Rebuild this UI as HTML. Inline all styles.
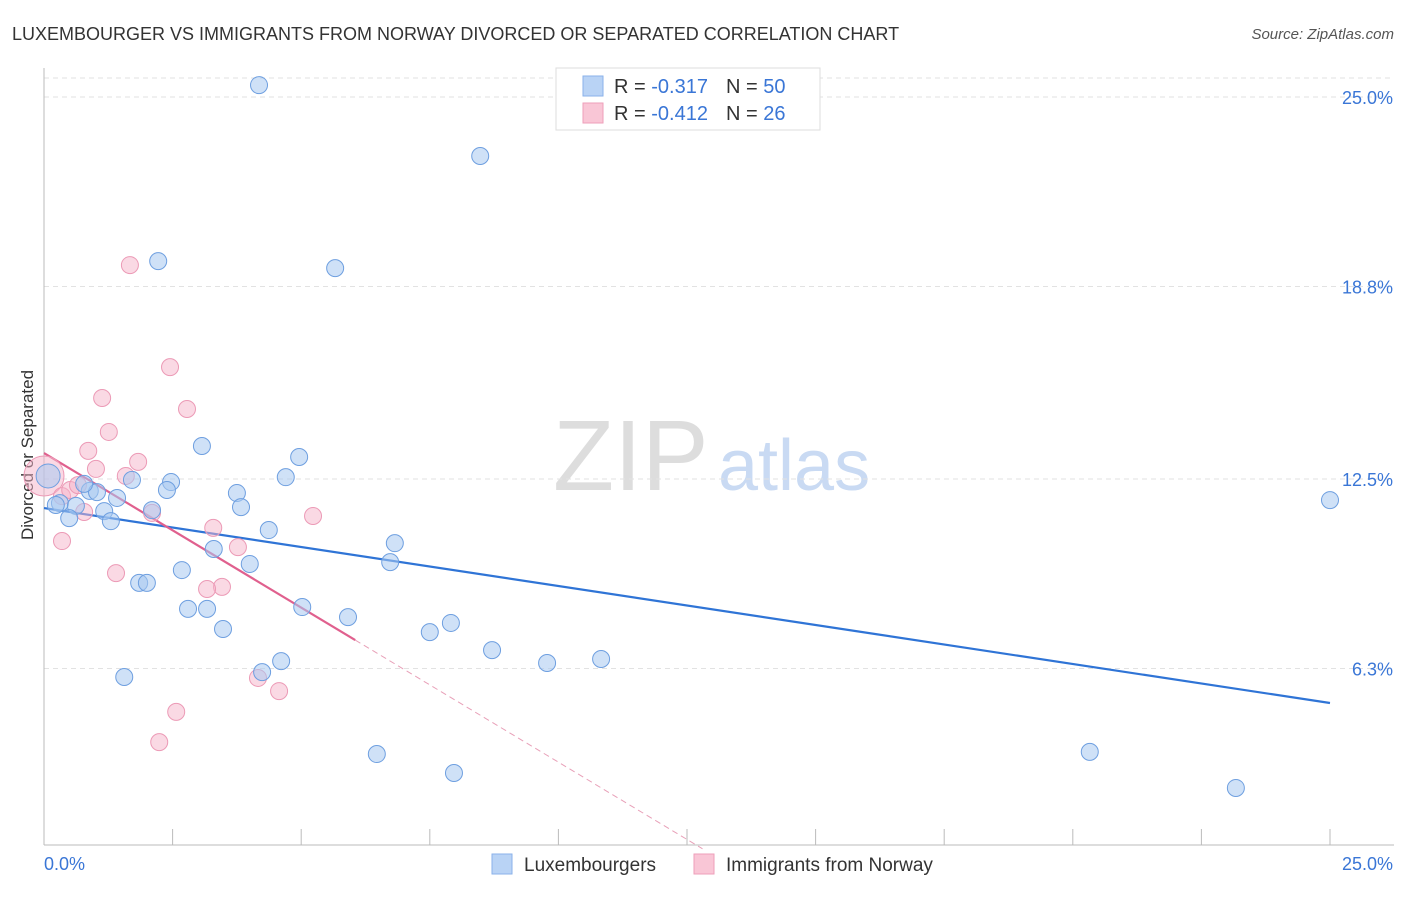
<!DOCTYPE html>
<html><head><meta charset="utf-8"><style>
body{margin:0;background:#fff;font-family:"Liberation Sans",sans-serif;}
svg text{font-family:"Liberation Sans",sans-serif;}
</style></head><body>
<svg id="c" width="1406" height="892" xmlns="http://www.w3.org/2000/svg">
<text x="12" y="40" font-size="18" fill="#333">LUXEMBOURGER VS IMMIGRANTS FROM NORWAY DIVORCED OR SEPARATED CORRELATION CHART</text>
<text x="1394" y="39" font-size="15" fill="#555" font-style="italic" text-anchor="end">Source: ZipAtlas.com</text>
<text transform="translate(33,455) rotate(-90)" font-size="17" fill="#333" text-anchor="middle">Divorced or Separated</text>
<g>
<text x="553" y="490" font-size="100" font-family="Liberation Serif,serif" fill="#ddd">ZIP</text>
<text x="718" y="490" font-size="72" fill="#c9daf3">atlas</text>
</g>
<g id="grid"></g><g id="axes"></g><g id="trend"></g><g id="pts"></g>
<g>
<rect x="556" y="68" width="264" height="62" fill="#fff" stroke="#ddd"/>
<rect x="583" y="76" width="20" height="20" fill="#b9d3f5" stroke="#8ab2ea"/>
<text x="614" y="93" font-size="20" fill="#333">R = <tspan fill="#3a76d6">-0.317</tspan><tspan dx="18">N = </tspan><tspan fill="#3a76d6">50</tspan></text>
<rect x="583" y="103" width="20" height="20" fill="#f9c6d6" stroke="#ee9fba"/>
<text x="614" y="120" font-size="20" fill="#333">R = <tspan fill="#3a76d6">-0.412</tspan><tspan dx="18">N = </tspan><tspan fill="#3a76d6"> 26</tspan></text>
</g>
<g>
<rect x="492" y="854" width="20" height="20" fill="#b9d3f5" stroke="#8ab2ea"/>
<text x="524" y="871" font-size="19" fill="#333">Luxembourgers</text>
<rect x="694" y="854" width="20" height="20" fill="#f9c6d6" stroke="#ee9fba"/>
<text x="726" y="871" font-size="19" fill="#333">Immigrants from Norway</text>
</g>
</svg>
<script>
const blueX=[4.18,8.48,2.22,5.66,3.07,4.96,4.70,2.47,2.39,1.71,0.89,1.03,1.42,0.31,0.23,0.62,1.17,2.10,0.49,1.30,3.75,3.83,4.37,6.82,3.30,4.00,6.73,2.68,1.85,2.00,2.80,3.17,5.02,5.91,3.48,7.50,7.91,8.71,9.78,10.83,4.61,4.24,1.56,6.47,7.97,20.33,23.17,25.0,0.78,0.08];
const blueY=[25.39,23.07,19.63,19.40,13.58,13.22,12.56,12.40,12.14,12.47,12.11,12.07,11.88,11.71,11.65,11.62,11.45,11.48,11.22,11.12,12.04,11.58,10.83,10.40,10.21,9.72,9.78,9.52,9.10,9.10,8.25,8.25,8.31,7.98,7.59,7.49,7.79,6.90,6.48,6.61,6.54,6.18,6.02,3.50,2.88,3.57,2.39,11.81,12.34,12.60];
const pinkX=[0,1.67,2.45,2.78,1.13,1.26,0.86,1.83,1.01,1.59,0.35,0.51,0.66,0.78,2.10,5.23,3.29,0.35,3.77,1.40,3.46,3.17,4.16,4.57,2.57,2.24];
const pinkY=[12.60,19.50,16.16,14.79,15.15,14.04,13.42,13.06,12.83,12.60,11.94,12.14,12.30,11.42,11.39,11.29,10.90,10.47,10.27,9.42,8.97,8.90,5.99,5.56,4.88,3.89];
const yTicks=[25.0,18.8,12.5,6.3];
const xTickLabels=["0.0%","25.0%"];
const blueTrend=[11.55,5.17];
const pinkTrend=[13.35,7.23,6.05];
const NS="http://www.w3.org/2000/svg";
const sx=v=>44+v/25*1286, sy=v=>861-v/25*764;
function mk(t,a,p){const e=document.createElementNS(NS,t);for(const k in a)e.setAttribute(k,a[k]);document.getElementById(p).appendChild(e);return e;}
let g=mk('line',{x1:44,x2:1394,y1:78,y2:78,stroke:'#e2e2e2','stroke-dasharray':'5,4'},'grid');


yTicks.forEach(v=>{
 const l=mk('line',{x1:44,x2:1394,y1:sy(v),y2:sy(v),stroke:'#e2e2e2','stroke-dasharray':'5,4'},'grid');
 
 
 const t=mk('text',{x:1393,y:sy(v)+7,'font-size':18,fill:'#3a76d6','text-anchor':'end'},'grid');t.textContent=v.toFixed(1)+'%';
 
 
});
let a=mk('line',{x1:44,x2:44,y1:68,y2:845,stroke:'#bbb'},'axes');


a=mk('line',{x1:44,x2:1394,y1:845,y2:845,stroke:'#bbb'},'axes');


for(let i=0;i<=10;i++){const tk=mk('line',{x1:sx(i*2.5),x2:sx(i*2.5),y1:829,y2:845,stroke:'#bbb'},'axes');
 
 }
let xt=mk('text',{x:44,y:870,'font-size':18,fill:'#3a76d6'},'axes');xt.textContent=xTickLabels[0];


xt=mk('text',{x:1393,y:870,'font-size':18,fill:'#3a76d6','text-anchor':'end'},'axes');xt.textContent=xTickLabels[1];


let tl=mk('line',{x1:sx(0),y1:sy(blueTrend[0]),x2:sx(25),y2:sy(blueTrend[1]),stroke:'#2f74d6','stroke-width':2.2},'trend');


const slope=(pinkTrend[1]-pinkTrend[0])/pinkTrend[2];
const xEnd=Math.min(25,-pinkTrend[0]/slope*0.97);
tl=mk('line',{x1:sx(pinkTrend[2]),y1:sy(pinkTrend[1]),x2:sx(xEnd),y2:sy(pinkTrend[0]+slope*xEnd),stroke:'#e8a0b8','stroke-width':1,'stroke-dasharray':'6,4'},'trend');


tl=mk('line',{x1:sx(0),y1:sy(pinkTrend[0]),x2:sx(pinkTrend[2]),y2:sy(pinkTrend[1]),stroke:'#e0608e','stroke-width':2.2},'trend');


pinkX.forEach((x,i)=>{const c=mk('circle',{cx:sx(x),cy:sy(pinkY[i]),r:i==0?20:8.5,fill:'rgba(246,180,202,0.5)',stroke:'#ec9ab6','stroke-width':1},'pts');
 
 });
blueX.forEach((x,i)=>{const c=mk('circle',{cx:sx(x),cy:sy(blueY[i]),r:i==blueX.length-1?12:8.5,fill:'rgba(168,200,240,0.55)',stroke:'#6e9fe0','stroke-width':1},'pts');
 
 });
</script>
</body></html>
